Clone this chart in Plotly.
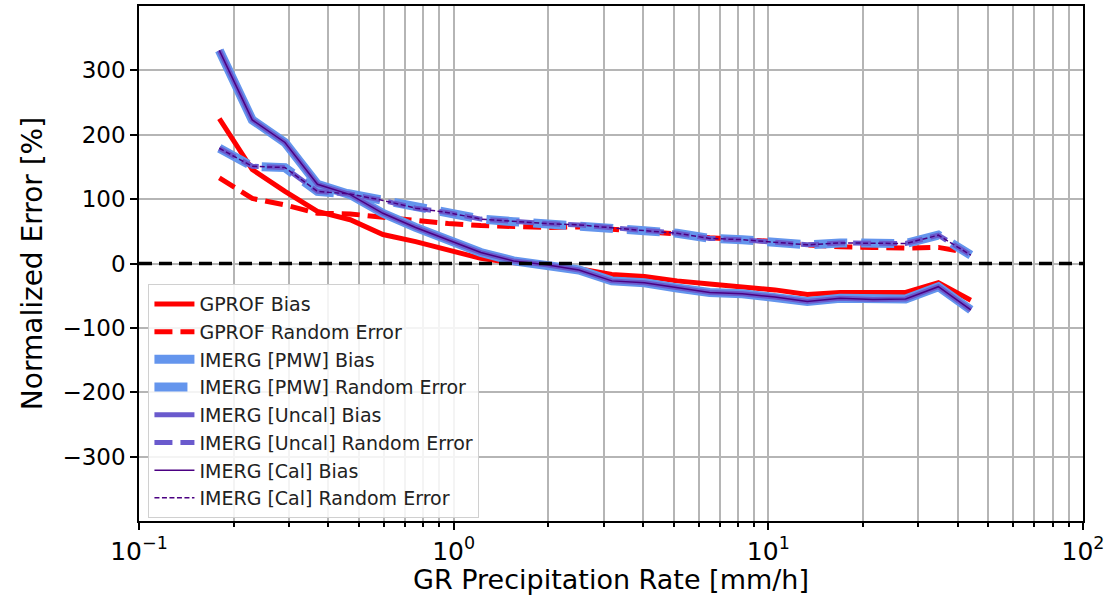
import plotly.graph_objects as go

# GR precipitation rate bin centres [mm/h]
rate = [0.18, 0.229, 0.291, 0.369, 0.469, 0.596, 0.757, 0.961, 1.22, 1.55, 1.97, 2.50,
        3.18, 4.04, 5.13, 6.51, 8.27, 10.5, 13.3, 16.9, 21.5, 27.3, 34.7, 44.0]

gprof_bias = [225, 146, 112, 81, 68, 45, 34, 22, 8, 1, -2, -8,
              -17, -20, -27, -32, -36, -41, -48, -45, -45, -45, -30, -57]
gprof_rand = [133, 101, 91, 78, 77, 72, 68, 62, 59, 57, 56, 57,
              53, 50, 46, 40, 37, 34, 29, 26, 25, 24, 25, 16]

pmw_bias = [331, 223, 188, 123, 107, 78, 56, 37, 17, 4, -2, -10,
            -27, -30, -38, -45, -47, -52, -59, -54, -56, -55, -36, -72]
pmw_rand = [179, 151, 149, 112, 108, 98, 86, 79, 69, 65, 62, 60,
            55, 51, 47, 39, 37, 33, 29, 32, 31, 31, 44, 13]

uncal_bias = [331, 223, 188, 123, 107, 78, 56, 37, 17, 4, -2, -10,
              -27, -30, -38, -45, -47, -52, -59, -54, -56, -55, -36, -72]
uncal_rand = [179, 151, 149, 112, 108, 98, 86, 79, 69, 65, 62, 60,
              55, 51, 47, 39, 37, 33, 29, 32, 31, 31, 44, 13]

cal_bias = [331, 223, 188, 123, 107, 78, 56, 37, 17, 4, -2, -10,
            -27, -30, -38, -45, -47, -52, -59, -54, -56, -55, -36, -72]
cal_rand = [179, 151, 149, 112, 108, 98, 86, 79, 69, 65, 62, 60,
            55, 51, 47, 39, 37, 33, 29, 32, 31, 31, 44, 13]

y_ticks = [-300, -200, -100, 0, 100, 200, 300]
y_tick_text = ["\u2212300", "\u2212200", "\u2212100", "0", "100", "200", "300"]
x_ticks = [0.1, 1, 10, 100]
x_tick_text = ["10<sup>\u22121</sup>", "10<sup>0</sup>", "10<sup>1</sup>", "10<sup>2</sup>"]
x_minor = [m * d for d in (0.1, 1, 10) for m in range(2, 10)]

RED = "#ff0000"
PMW = "#6495ED"
UNC = "#6A5ACD"
CAL = "#4B0082"

series = [
    ("GPROF Bias", gprof_bias, RED, 5, "solid"),
    ("GPROF Random Error", gprof_rand, RED, 5, "18px,8px"),
    ("IMERG [PMW] Bias", pmw_bias, PMW, 9, "solid"),
    ("IMERG [PMW] Random Error", pmw_rand, PMW, 9, "33px,14px"),
    ("IMERG [Uncal] Bias", uncal_bias, UNC, 5, "solid"),
    ("IMERG [Uncal] Random Error", uncal_rand, UNC, 5, "18px,8px"),
    ("IMERG [Cal] Bias", cal_bias, CAL, 1.5, "solid"),
    ("IMERG [Cal] Random Error", cal_rand, CAL, 1.5, "5px,2.5px"),
]

fig = go.Figure()
for name, vals, color, width, dash in series:
    fig.add_trace(go.Scatter(x=rate, y=vals, mode="lines", name=name,
                             line=dict(color=color, width=width, dash=dash)))

fig.add_shape(type="line", xref="paper", yref="y", x0=0, x1=1, y0=0, y1=0,
              line=dict(color="black", width=3.5, dash="13px,7px"), layer="above")

FONT = "DejaVu Sans"
fig.update_layout(
    width=1105, height=595,
    margin=dict(l=139, r=22, t=6, b=74),
    paper_bgcolor="white", plot_bgcolor="white",
    font=dict(family=FONT, color="black", size=22),
    showlegend=True,
    legend=dict(x=0.01, y=0.46, xanchor="left", yanchor="top",
                bgcolor="rgba(255,255,255,0.85)", bordercolor="#d0d0d0", borderwidth=1,
                font=dict(family=FONT, size=19, color="#222222"),
                tracegroupgap=0, itemwidth=40),
    xaxis=dict(type="log", range=[-1, 2], automargin=False,
               tickvals=x_ticks, ticktext=x_tick_text,
               ticks="outside", ticklen=7, tickwidth=1.5, tickcolor="black",
               tickfont=dict(size=25),
               showgrid=True, gridcolor="#b5b5b5", gridwidth=1.5,
               minor=dict(tickvals=x_minor, ticks="outside", ticklen=4, tickcolor="black",
                          showgrid=True, gridcolor="#b5b5b5", gridwidth=1.5),
               showline=True, linecolor="black", linewidth=1.5, mirror=True,
               title=dict(text="GR Precipitation Rate [mm/h]", font=dict(size=27), standoff=6),
               zeroline=False),
    yaxis=dict(range=[-400, 400], automargin=False,
               tickvals=y_ticks, ticktext=y_tick_text,
               ticks="outside", ticklen=7, tickwidth=1.5, tickcolor="black",
               tickfont=dict(size=23),
               showgrid=True, gridcolor="#b5b5b5", gridwidth=1.5,
               showline=True, linecolor="black", linewidth=1.5, mirror=True,
               title=dict(text="Normalized Error [%]", font=dict(size=28), standoff=12),
               zeroline=False),
)

fig.write_html("out.html")
